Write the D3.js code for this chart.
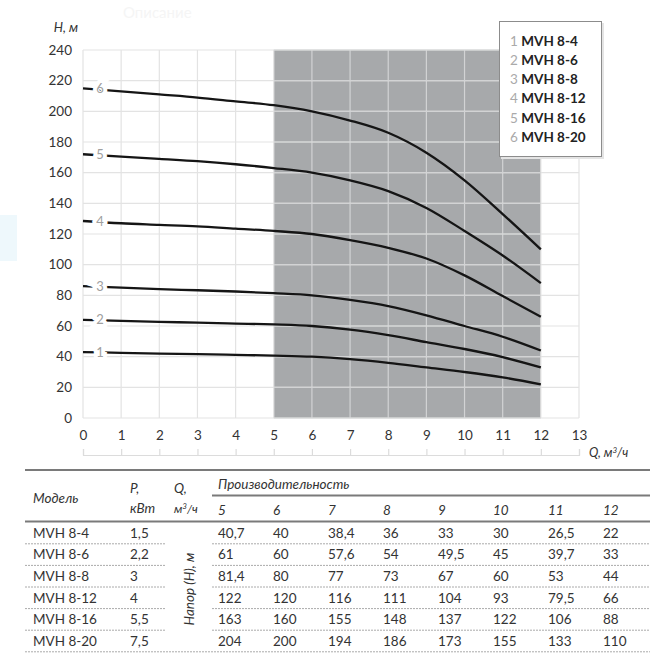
<!DOCTYPE html>
<html>
<head>
<meta charset="utf-8">
<script src="https://cdn.jsdelivr.net/npm/d3@7"></script>
<style>
  body { margin: 0; background: #fff; }
  svg { display: block; font-family: Lato, "Open Sans", sans-serif; }
</style>
</head>
<body>
<svg id="chart" width="655" height="669"></svg>
<script>
// данные графика
var flowTicks = [0, 1, 2, 3, 4, 5, 6, 7, 8, 9, 10, 11, 12, 13];
var headTicks = [0, 20, 40, 60, 80, 100, 120, 140, 160, 180, 200, 220, 240];
var flowPoints = [0, 1, 2, 3, 4, 5, 6, 7, 8, 9, 10, 11, 12];
var models = ["MVH 8-4", "MVH 8-6", "MVH 8-8", "MVH 8-12", "MVH 8-16", "MVH 8-20"];
var power = ["1,5", "2,2", "3", "4", "5,5", "7,5"];
var head1 = [43, 42.5, 42, 41.7, 41.2, 40.7, 40, 38.4, 36, 33, 30, 26.5, 22];
var head2 = [64, 63.3, 62.7, 62.2, 61.6, 61, 60, 57.6, 54, 49.5, 45, 39.7, 33];
var head3 = [86, 85, 84, 83.3, 82.5, 81.4, 80, 77, 73, 67, 60, 53, 44];
var head4 = [128.5, 127, 126, 125, 123.5, 122, 120, 116, 111, 104, 93, 79.5, 66];
var head5 = [172, 170.5, 169, 167.5, 165.5, 163, 160, 155, 148, 137, 122, 106, 88];
var head6 = [215, 213, 211, 209, 206.5, 204, 200, 194, 186, 173, 155, 133, 110];
var tableCols = [5, 6, 7, 8, 9, 10, 11, 12];
var tableRows = [
    ["40,7", "40", "38,4", "36", "33", "30", "26,5", "22"],
    ["61", "60", "57,6", "54", "49,5", "45", "39,7", "33"],
    ["81,4", "80", "77", "73", "67", "60", "53", "44"],
    ["122", "120", "116", "111", "104", "93", "79,5", "66"],
    ["163", "160", "155", "148", "137", "122", "106", "88"],
    ["204", "200", "194", "186", "173", "155", "133", "110"]
];
var curves = [head1, head2, head3, head4, head5, head6];
var workFrom = 5, workTo = 12;

var svg = d3.select("#chart");

// следы от исходной страницы
svg.append("rect").attr("x", 0).attr("y", 215).attr("width", 17).attr("height", 46).attr("fill", "#eef8fc");
svg.append("text").attr("x", 123).attr("y", 18).attr("font-size", "15px").attr("fill", "#f5f5f5").text("Описание");

var x = d3.scaleLinear().domain([0, 13]).range([83, 579]);
var y = d3.scaleLinear().domain([0, 240]).range([418, 50]);

// рабочая зона
svg.append("rect")
    .attr("x", x(workFrom))
    .attr("y", y(240))
    .attr("width", x(workTo) - x(workFrom))
    .attr("height", y(0) - y(240))
    .attr("fill", "#a7a9ab");

// сетка
var grid = svg.append("g");
grid.selectAll(".gv")
    .data(flowTicks)
    .enter()
    .append("line")
    .attr("x1", function (d) { return x(d); })
    .attr("x2", function (d) { return x(d); })
    .attr("y1", y(0))
    .attr("y2", y(240))
    .attr("stroke", function (d) { return (d > workFrom && d < workTo) ? "#d2d3d4" : "#e3e3e3"; })
    .attr("stroke-width", 1.2);
grid.selectAll(".gh")
    .data(headTicks)
    .enter()
    .append("line")
    .attr("x1", x(0))
    .attr("x2", x(13))
    .attr("y1", function (d) { return y(d); })
    .attr("y2", function (d) { return y(d); })
    .attr("stroke", "#e3e3e3")
    .attr("stroke-width", 1.2);
// линии сетки поверх серой зоны
grid.selectAll(".gh2")
    .data(headTicks)
    .enter()
    .append("line")
    .attr("x1", x(workFrom))
    .attr("x2", x(workTo))
    .attr("y1", function (d) { return y(d); })
    .attr("y2", function (d) { return y(d); })
    .attr("stroke", "#d2d3d4")
    .attr("stroke-width", 1.2);

// ось Y
var yAxis = svg.append("g")
    .attr("transform", "translate(" + (x(0) - 11) + ",0)")
    .call(d3.axisLeft(y).tickValues(headTicks).tickSize(0).tickPadding(0));
yAxis.select(".domain").remove();
yAxis.selectAll("text")
    .attr("font-family", "Lato, sans-serif")
    .attr("font-size", "13.5px")
    .attr("fill", "#333");
svg.append("text")
    .attr("x", 78)
    .attr("y", 32)
    .attr("text-anchor", "end")
    .attr("font-style", "italic")
    .attr("font-size", "13px")
    .attr("fill", "#333")
    .text("H, м");

// ось X
var xAxis = svg.append("g")
    .attr("transform", "translate(0,455)")
    .call(d3.axisTop(x).tickValues(flowTicks).tickSize(6).tickPadding(9));
xAxis.select(".domain").attr("stroke", "#dcdcdc").attr("stroke-width", 1.2);
xAxis.selectAll(".tick line").attr("stroke", "#dcdcdc").attr("stroke-width", 1.2);
xAxis.selectAll("text")
    .attr("font-family", "Lato, sans-serif")
    .attr("font-size", "13.5px")
    .attr("fill", "#333");
svg.append("text")
    .attr("x", 589)
    .attr("y", 457)
    .attr("font-style", "italic")
    .attr("font-size", "12.5px")
    .attr("fill", "#333")
    .html("Q, м<tspan font-size='8px' dy='-4'>3</tspan><tspan dy='4'>/ч</tspan>");

// кривые
var line = d3.line()
    .x(function (d) { return x(d[0]); })
    .y(function (d) { return y(d[1]); })
    .curve(d3.curveMonotoneX);

curves.forEach(function (vals, i) {
    var pts = flowPoints.map(function (q, k) { return [q, vals[k]]; });
    svg.append("path")
        .attr("d", line(pts))
        .attr("fill", "none")
        .attr("stroke", "#151515")
        .attr("stroke-width", 2.3);
    // номер кривой
    svg.append("text")
        .attr("x", x(0) + 17)
        .attr("y", y(vals[0]))
        .attr("dy", "0.35em")
        .attr("text-anchor", "middle")
        .attr("font-size", "13px")
        .attr("fill", "#a0a0a0")
        .attr("stroke", "#fff")
        .attr("stroke-width", 8)
        .attr("paint-order", "stroke")
        .text(i + 1);
});

// легенда
var legend = svg.append("g").attr("transform", "translate(499,21)");
legend.append("rect")
    .attr("x", 2).attr("y", 2)
    .attr("width", 103).attr("height", 136)
    .attr("fill", "#e4e4e4");
legend.append("rect")
    .attr("x", 0.5).attr("y", 0.5)
    .attr("width", 102).attr("height", 135)
    .attr("fill", "#fff")
    .attr("stroke", "#8c8c8c");
models.forEach(function (m, i) {
    var t = legend.append("text")
        .attr("x", 11)
        .attr("y", 20 + i * 19.2)
        .attr("dy", "0.35em")
        .attr("font-size", "13.5px");
    t.append("tspan").attr("fill", "#aaa").text(i + 1 + " ");
    t.append("tspan").attr("fill", "#222").attr("font-weight", "bold").text(m);
});

// таблица
var tbl = svg.append("g").attr("fill", "#333").attr("font-size", "13.5px");
var colX = d3.scaleLinear().domain([5, 12]).range([218, 603]);
var rowY = d3.scaleLinear().domain([0, 5]).range([533, 641]);

tbl.append("line").attr("x1", 25).attr("x2", 650).attr("y1", 470).attr("y2", 470)
    .attr("stroke", "#7a7a7a").attr("stroke-width", 2);
tbl.append("line").attr("x1", 212).attr("x2", 650).attr("y1", 495.5).attr("y2", 495.5)
    .attr("stroke", "#7a7a7a").attr("stroke-width", 2);
tbl.append("line").attr("x1", 25).attr("x2", 650).attr("y1", 521.5).attr("y2", 521.5)
    .attr("stroke", "#7a7a7a").attr("stroke-width", 2);

tbl.append("text").attr("x", 33).attr("y", 503).attr("font-style", "italic").text("Модель");
tbl.append("text").attr("x", 130).attr("y", 493).attr("font-style", "italic").text("P,");
tbl.append("text").attr("x", 130).attr("y", 513).attr("font-style", "italic").text("кВт");
tbl.append("text").attr("x", 174).attr("y", 493).attr("font-style", "italic").text("Q,");
tbl.append("text").attr("x", 174).attr("y", 513).attr("font-style", "italic").attr("font-size", "12px")
    .html("м<tspan font-size='8px' dy='-4'>3</tspan><tspan dy='4'>/ч</tspan>");
tbl.append("text").attr("x", 218).attr("y", 489).attr("font-style", "italic").text("Производительность");

tbl.selectAll(".ch")
    .data(tableCols)
    .enter()
    .append("text")
    .attr("x", function (d) { return colX(d); })
    .attr("y", 515)
    .attr("font-style", "italic")
    .text(function (d) { return d; });

tableRows.forEach(function (row, r) {
    var yy = rowY(r);
    tbl.append("text").attr("x", 33).attr("y", yy).attr("dy", "0.35em").text(models[r]);
    tbl.append("text").attr("x", 130).attr("y", yy).attr("dy", "0.35em").text(power[r]);
    row.forEach(function (v, c) {
        tbl.append("text")
            .attr("x", colX(tableCols[c]))
            .attr("y", yy)
            .attr("dy", "0.35em")
            .text(v);
    });
    // пунктир между строками
    var ly = yy + 10.8;
    if (r < tableRows.length - 1) {
        tbl.append("line").attr("x1", 25).attr("x2", 165).attr("y1", ly).attr("y2", ly)
            .attr("stroke", "#aaa").attr("stroke-dasharray", "2,1");
        tbl.append("line").attr("x1", 212).attr("x2", 650).attr("y1", ly).attr("y2", ly)
            .attr("stroke", "#aaa").attr("stroke-dasharray", "2,1");
    } else {
        tbl.append("line").attr("x1", 25).attr("x2", 650).attr("y1", ly).attr("y2", ly)
            .attr("stroke", "#aaa").attr("stroke-dasharray", "2,1");
    }
});

tbl.append("text")
    .attr("transform", "translate(194,589) rotate(-90)")
    .attr("text-anchor", "middle")
    .attr("font-style", "italic")
    .text("Напор (Н), м");
</script>
</body>
</html>
